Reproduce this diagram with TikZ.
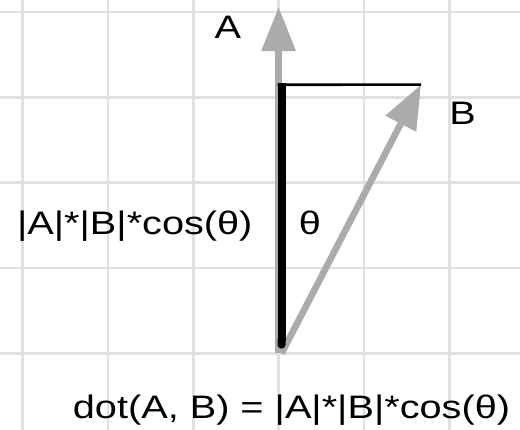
\documentclass[tikz,border=0pt]{standalone}
\usepackage{fontspec}
\setmainfont{Liberation Sans}[FakeStretch=1.22]
\usepackage{xcolor}
\usepackage{tikz}
\usetikzlibrary{arrows.meta}
\definecolor{gridgray}{gray}{0.88}
\definecolor{vecgray}{gray}{0.67}

\begin{document}
\begin{tikzpicture}[font=\fontsize{10.85}{13}\selectfont,
    gridline/.style={draw=gridgray, line width=0.9pt},
    vec/.style={draw=vecgray, line width=2.2pt, -{Triangle[length=14.7pt, width=11pt]}},
    projline/.style={draw=black, line width=2.7pt, {Round Cap[]}-},
    lbl/.style={anchor=base, inner sep=0pt}]
% background and grid (1 cell = 1cm)
\fill[white] (-3.266,-0.899) rectangle (2.830,4.142);
\useasboundingbox (-3.266,-0.899) rectangle (2.830,4.142);
\draw[gridline, step=1] (-3.266,-0.899) grid (2.830,4.142);
% vectors
\coordinate (O) at (0,0);
\coordinate (Atip) at (0,4.06);
\coordinate (Btip) at (1.67,3.15);
\coordinate (Pbot) at (0.035,0.054);
\coordinate (Ptop) at (0.035,3.165);
\coordinate (Pcorner) at (-0.01,3.149);
\draw[vec] (O) -- (Atip);
\draw[vec] (0.035,0) -- (Btip);
\draw[projline] (Pbot) -- (Ptop);
\draw[line width=0.9pt] (Pcorner) -- (Btip);
% labels
\node[lbl] (labA) at (-0.594,3.693) {A};
\node[lbl] (labB) at (2.156,2.688) {B};
\node[lbl] (labT) at (0.368,1.387) {θ};
\node[lbl] (labP) at (-1.686,1.387) {|A|*|B|*cos(θ)};
\node[lbl] (labD) at (0.151,-0.77) {dot(A, B) = |A|*|B|*cos(θ)};
\end{tikzpicture}
\end{document}
